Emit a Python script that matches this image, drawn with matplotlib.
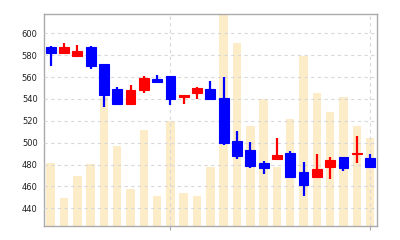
import matplotlib
matplotlib.use("Agg")
import matplotlib.pyplot as plt
import numpy as np

# daily candles (price) and volume, oldest first
opens = [587, 581.5, 579.5, 587, 572, 549, 535.5, 548, 558.5, 561, 541.5, 545.5, 549,
         540.5, 501.5, 493.5, 481.5, 485, 490.5, 473.5, 468.5, 478, 486.5, 489.5, 486]
closes = [582, 587, 584, 570.5, 543.5, 535.5, 548, 559, 555, 539.5, 544, 550, 540,
          500, 488, 479, 477, 489, 469, 461, 475.5, 484, 477, 490.5, 478]
highs = [588, 591, 589, 588, 572, 551, 553, 561, 562, 561, 544, 551, 556.5,
         560, 510.5, 500.5, 483.5, 504.5, 492.5, 482.5, 490, 486.5, 487, 506, 490]
lows = [570, 581.5, 579.5, 567, 533, 535.5, 535.5, 545, 554.5, 534.5, 535.5, 540, 539,
        498, 485, 477, 471, 484.5, 469, 451, 468, 467, 474, 481, 478]
volumes = [630, 280, 500, 620, 1290, 800, 370, 960, 300, 1050, 330, 300, 590,
           2300, 1830, 1000, 1270, 590, 1070, 1700, 1330, 1140, 1290, 1000, 880]
price_ticks = [440, 460, 480, 500, 520, 540, 560, 580, 600]
period_marks = [9, 24]

UP = "#ff0000"
DOWN = "#0000ff"
VOL = "#fdecc8"
GRID = "#d8d8d8"
FRAME = "#aaaaaa"

fig = plt.figure(figsize=(4.0, 2.4), dpi=100)
ax = fig.add_axes([0.11, 0.0583, 0.8325, 0.8834])
axv = ax.twinx()
axv.set_zorder(ax.get_zorder() - 1)
ax.patch.set_visible(False)

x = np.arange(len(opens))

# volume in the background
axv.bar(x, volumes, width=0.64, color=VOL, linewidth=0)
axv.set_ylim(0, 2120)
axv.set_yticks([])
for s in axv.spines.values():
    s.set_visible(False)

# candles
o = np.array(opens)
c = np.array(closes)
colors = [UP if cc >= oo else DOWN for oo, cc in zip(o, c)]
ax.vlines(x, lows, highs, colors=colors, linewidth=1.6, zorder=3)
ax.bar(x, np.maximum(np.abs(c - o), 0.6), bottom=np.minimum(o, c), width=0.74,
       color=colors, edgecolor=colors, linewidth=0.8, zorder=4)

ax.set_xlim(-0.5, 24.52)
ax.set_ylim(423.8, 617.6)
ax.set_yticks(price_ticks)
ax.set_xticks(period_marks)
ax.set_xticklabels([])
ax.tick_params(axis="y", length=0, pad=4.5, labelsize=6, labelcolor="#222222")
ax.tick_params(axis="x", length=3, color=FRAME, width=0.8)
ax.grid(True, color=GRID, linestyle=(0, (3, 3)), linewidth=0.8)
ax.set_axisbelow(False)
for s in ax.spines.values():
    s.set_color(FRAME)
    s.set_linewidth(1.0)

fig.savefig("out.png", dpi=100)
